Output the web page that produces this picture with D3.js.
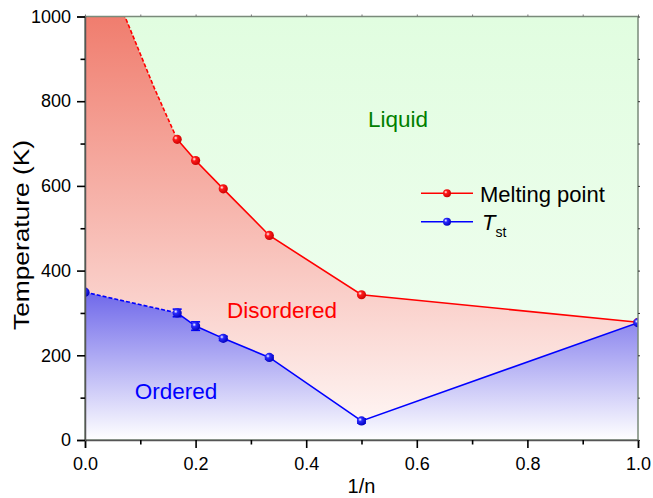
<!DOCTYPE html>
<html>
<head>
<meta charset="utf-8">
<script src="https://cdn.jsdelivr.net/npm/d3@7.9.0/dist/d3.min.js"></script>
<style>
  body { margin: 0; background: #fff; }
  svg { font-family: Arial, "Liberation Sans", sans-serif; }
</style>
</head>
<body>
<svg id="chart" width="653" height="498"></svg>
<script>
// values
const invN = [1 / 6, 0.2, 0.25, 1 / 3, 0.5, 1.0];
const meltT = [710, 660, 593, 483, 343, 278];
const meltExtrapX = [0, 0.125, 1 / 6];
const meltExtrapT = [1230, 832, 710];
const tstT = [300, 269, 240, 195, 45, 277];
const tstErr = [9, 10, 5, 4, 5, 4];
const tstExtrapX = [0, 1 / 6];
const tstExtrapT = [349, 300];
const xTicks = [0, 0.2, 0.4, 0.6, 0.8, 1.0];
const yTicks = [0, 200, 400, 600, 800, 1000];

const margin = { top: 16.5, right: 15, bottom: 58, left: 85 };
const width = 653 - margin.left - margin.right;
const height = 498 - margin.top - margin.bottom;

const svg = d3.select('#chart');
const defs = svg.append('defs');

defs.append('clipPath').attr('id', 'plot-clip')
    .append('rect').attr('width', width).attr('height', height);

const x = d3.scaleLinear().domain([0, 1]).range([0, width]);
const y = d3.scaleLinear().domain([0, 1000]).range([height, 0]);

function linGrad(id, y1, y2, top, bottom) {
    let g = defs.append('linearGradient').attr('id', id)
        .attr('gradientUnits', 'userSpaceOnUse')
        .attr('x1', 0).attr('x2', 0).attr('y1', y1).attr('y2', y2);
    g.append('stop').attr('offset', 0).attr('stop-color', top);
    g.append('stop').attr('offset', 1).attr('stop-color', bottom);
}
linGrad('g-green', 0, height, '#e1fde0', '#f3fef3');
linGrad('g-red', 0, height, '#f07d6e', '#fffaf9');
linGrad('g-blue', y(350), height, '#6f68ea', '#ffffff');

function ballGrad(id, base, dark) {
    let g = defs.append('radialGradient').attr('id', id)
        .attr('cx', 0.35).attr('cy', 0.35).attr('r', 0.7);
    g.append('stop').attr('offset', 0).attr('stop-color', '#ffffff');
    g.append('stop').attr('offset', 0.3).attr('stop-color', base);
    g.append('stop').attr('offset', 1).attr('stop-color', dark);
}
ballGrad('ball-red', '#ff1a1a', '#c80000');
ballGrad('ball-blue', '#2a2aff', '#0000b8');

const g = svg.append('g').attr('transform', `translate(${margin.left},${margin.top})`);
const plot = g.append('g').attr('clip-path', 'url(#plot-clip)');

const melt = meltExtrapX.slice(0, -1).map((d, i) => [d, meltExtrapT[i]])
    .concat(invN.map((d, i) => [d, meltT[i]]));
const tst = [[tstExtrapX[0], tstExtrapT[0]]].concat(invN.map((d, i) => [d, tstT[i]]));

const area = d3.area().x(d => x(d[0])).y0(y(0)).y1(d => y(d[1]));
const line = d3.line().x(d => x(d[0])).y(d => y(d[1]));

plot.append('rect').attr('width', width).attr('height', height).attr('fill', 'url(#g-green)');
plot.append('path').attr('d', area(melt)).attr('fill', 'url(#g-red)');
plot.append('path').attr('d', area(tst)).attr('fill', 'url(#g-blue)');

// dashed extrapolations
plot.append('path')
    .attr('d', line(meltExtrapX.map((d, i) => [d, meltExtrapT[i]])))
    .attr('fill', 'none').attr('stroke', '#ff0000').attr('stroke-width', 1.6)
    .attr('stroke-dasharray', '4,2');
plot.append('path')
    .attr('d', line(tstExtrapX.map((d, i) => [d, tstExtrapT[i]])))
    .attr('fill', 'none').attr('stroke', '#0000ff').attr('stroke-width', 1.6)
    .attr('stroke-dasharray', '4,2');

// solid lines
plot.append('path').attr('d', line(invN.map((d, i) => [d, meltT[i]])))
    .attr('fill', 'none').attr('stroke', '#ff0000').attr('stroke-width', 1.6);
plot.append('path').attr('d', line(invN.map((d, i) => [d, tstT[i]])))
    .attr('fill', 'none').attr('stroke', '#0000ff').attr('stroke-width', 1.6);

// error bars
invN.forEach((d, i) => {
    let e = plot.append('g').attr('stroke', '#0000ff').attr('stroke-width', 1.6);
    e.append('line').attr('x1', x(d)).attr('x2', x(d))
        .attr('y1', y(tstT[i] - tstErr[i])).attr('y2', y(tstT[i] + tstErr[i]));
    [-1, 1].forEach(s => {
        e.append('line').attr('x1', x(d) - 4.5).attr('x2', x(d) + 4.5)
            .attr('y1', y(tstT[i] + s * tstErr[i])).attr('y2', y(tstT[i] + s * tstErr[i]));
    });
});

// markers
plot.selectAll('.m-red').data(invN.map((d, i) => [d, meltT[i]])).join('circle')
    .attr('cx', d => x(d[0])).attr('cy', d => y(d[1])).attr('r', 4.6)
    .attr('fill', 'url(#ball-red)');
plot.selectAll('.m-blue').data(tst).join('circle')
    .attr('cx', d => x(d[0])).attr('cy', d => y(d[1])).attr('r', 4.6)
    .attr('fill', 'url(#ball-blue)');

// region labels
g.append('text').attr('x', 398 - margin.left).attr('y', 127 - margin.top).attr('text-anchor', 'middle')
    .attr('font-size', 22.5).attr('fill', '#008000').text('Liquid');
g.append('text').attr('x', 282 - margin.left).attr('y', 318 - margin.top).attr('text-anchor', 'middle')
    .attr('font-size', 22.5).attr('fill', '#ff0000').text('Disordered');
g.append('text').attr('x', 176 - margin.left).attr('y', 399 - margin.top).attr('text-anchor', 'middle')
    .attr('font-size', 22.5).attr('fill', '#0000ff').text('Ordered');

// frame
g.append('rect').attr('width', width).attr('height', height)
    .attr('fill', 'none').attr('stroke', '#7a8a7a').attr('stroke-width', 1.5);

// axes
const xAxis = g.append('g').attr('transform', `translate(0,${height})`)
    .call(d3.axisBottom(x).tickValues(xTicks).tickFormat(d3.format('.1f')).tickSize(8).tickPadding(9));
const yAxis = g.append('g')
    .call(d3.axisLeft(y).tickValues(yTicks).tickFormat(d3.format('d')).tickSize(8).tickPadding(6));
[xAxis, yAxis].forEach(a => {
    a.select('.domain').attr('stroke', '#555').attr('stroke-width', 1.5);
    a.selectAll('.tick line').attr('stroke', '#000').attr('stroke-width', 1.6);
    a.selectAll('.tick text').attr('font-size', 18).attr('fill', '#000')
        .attr('font-family', 'Arial, "Liberation Sans", sans-serif');
});
// minor ticks
g.append('g').attr('transform', `translate(0,${height})`)
    .call(d3.axisBottom(x).tickValues(d3.range(0.1, 1, 0.2)).tickSize(4.5).tickFormat(''))
    .call(a => a.select('.domain').remove())
    .selectAll('line').attr('stroke-width', 1.6);
g.append('g')
    .call(d3.axisLeft(y).tickValues(d3.range(100, 1000, 200)).tickSize(4.5).tickFormat(''))
    .call(a => a.select('.domain').remove())
    .selectAll('line').attr('stroke-width', 1.6);
// small ticks on the top and right edges
g.append('g')
    .call(d3.axisTop(x).tickValues(d3.range(0, 1.01, 0.1)).tickSize(2).tickFormat(''))
    .call(a => a.select('.domain').remove())
    .selectAll('line').attr('stroke', '#777');
g.append('g').attr('transform', `translate(${width},0)`)
    .call(d3.axisRight(y).tickValues(d3.range(0, 1001, 100)).tickSize(2).tickFormat(''))
    .call(a => a.select('.domain').remove())
    .selectAll('line').attr('stroke', '#333');

// axis titles
g.append('text').attr('x', width / 2).attr('y', 493 - margin.top).attr('text-anchor', 'middle')
    .attr('font-size', 20).text('1/n');
g.append('text').attr('transform', `translate(${28.5 - margin.left},${235 - margin.top}) rotate(-90)`)
    .attr('text-anchor', 'middle').attr('font-size', 22)
    .attr('textLength', 190).attr('lengthAdjust', 'spacingAndGlyphs')
    .text('Temperature (K)');

// legend
const legend = g.append('g').attr('transform', `translate(${421 - margin.left},${193.3 - margin.top})`);
[
    { color: '#ff0000', ball: 'url(#ball-red)', label: 'Melting point' },
    { color: '#0000ff', ball: 'url(#ball-blue)', label: null }
].forEach((d, i) => {
    let row = legend.append('g').attr('transform', `translate(0,${i * 28.4})`);
    row.append('line').attr('x1', 0).attr('x2', 52).attr('stroke', d.color).attr('stroke-width', 1.6);
    row.append('circle').attr('cx', 26).attr('r', 4).attr('fill', d.ball);
    let t = row.append('text').attr('x', 59).attr('y', 8.4).attr('font-size', 22);
    if (d.label) {
        t.text(d.label);
    } else {
        t.append('tspan').attr('x', 61).attr('font-style', 'italic').text('T');
        t.append('tspan').attr('font-size', 14).attr('dy', 7).text('st');
    }
});
</script>
</body>
</html>
